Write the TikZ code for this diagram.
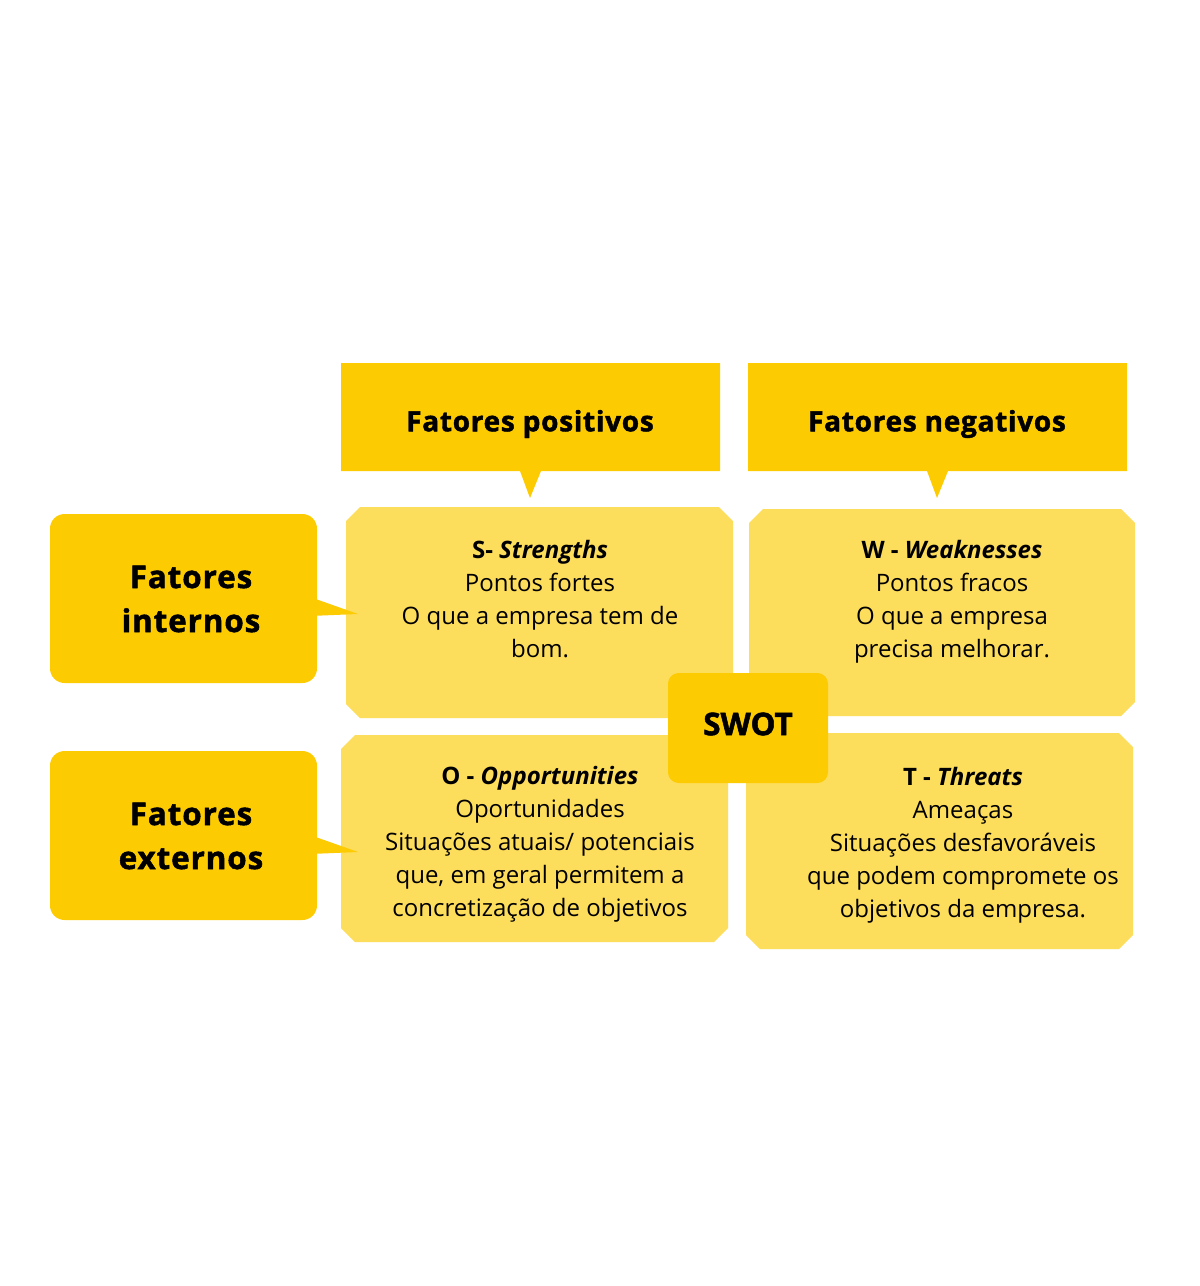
\documentclass[tikz,border=0pt]{standalone}
\usepackage{fontspec}
\setmainfont{Open Sans}
\newfontfamily\heavyfont[BoldFeatures={FakeBold=1.6}]{Open Sans}
\newfontfamily\heavyA[BoldFeatures={FakeBold=1.6,LetterSpace=2.5}]{Open Sans}
\newfontfamily\heavyB[BoldFeatures={FakeBold=1.6,LetterSpace=3}]{Open Sans}
\definecolor{darkY}{HTML}{FDCB02}
\definecolor{lightY}{HTML}{FDDD5C}
\newcommand\chamfbox[4]{\fill[lightY] (#1+14,#2) -- (#3-14,#2) -- (#3,#2+14) -- (#3,#4-14) -- (#3-14,#4) -- (#1+14,#4) -- (#1,#4-14) -- (#1,#2+14) -- cycle;}
\begin{document}
\begin{tikzpicture}[x=0.75pt,y=-0.75pt,
  body/.style={align=center,inner sep=0pt,font=\fontsize{18}{24.8}\selectfont},
  head/.style={align=center,inner sep=0pt,font=\fontsize{21}{26}\selectfont\heavyA\bfseries},
  side/.style={align=center,inner sep=0pt,font=\fontsize{23.5}{33}\selectfont\heavyB\bfseries},
  centre/.style={align=center,inner sep=0pt,font=\fontsize{23.5}{28}\selectfont\heavyfont\bfseries}]
\useasboundingbox (0,0) rectangle (1200,1286);
\fill[white] (0,0) rectangle (1200,1286);
% header boxes with pointers
\fill[darkY] (341,363) -- (720,363) -- (720,471) -- (541,471) -- (530,498) -- (520,471) -- (341,471) -- cycle;
\fill[darkY] (748,363) -- (1127,363) -- (1127,471) -- (948,471) -- (937,498) -- (927,471) -- (748,471) -- cycle;
% quadrants
\chamfbox{346}{507}{733}{718}
\chamfbox{749}{509}{1135}{716}
\chamfbox{341}{735}{728}{942}
\chamfbox{746}{733}{1133}{949}
% side boxes with pointers
\fill[darkY, rounded corners=11pt] (50,514) rectangle (317,683);
\fill[darkY] (310,597) -- (358,614) -- (310,616) -- cycle;
\fill[darkY, rounded corners=11pt] (50,751) rectangle (317,920);
\fill[darkY] (310,835) -- (358,852) -- (310,854) -- cycle;
% SWOT centre
\fill[darkY, rounded corners=8pt] (668,673) rectangle (828,783);
% texts
\node[head] (hp) at (530,424) {Fatores positivos};
\node[head] (hn) at (937,424) {Fatores negativos};
\node[side] (si) at (191,599) {Fatores\\internos};
\node[side] (se) at (191,836) {Fatores\\externos};
\node[body] (ts) at (540,599) {\textbf{S- \textit{Strengths}}\\Pontos fortes\\O que a empresa tem de\\bom.};
\node[body] (tw) at (952,602) {\textbf{W - \textit{Weaknesses}}\\Pontos fracos\\O que a empresa\\precisa melhorar.};
\node[body] (to) at (540,844) {\textbf{O - \textit{Opportunities}}\\Oportunidades\\Situações atuais/ potenciais\\que, em geral permitem a\\concretização de objetivos};
\node[body] (tt) at (963,845) {\textbf{T - \textit{Threats}}\\Ameaças\\Situações desfavoráveis\\que podem compromete os\\objetivos da empresa.};
\node[centre] (sw) at (748,724) {SWOT};
\end{tikzpicture}
\end{document}
